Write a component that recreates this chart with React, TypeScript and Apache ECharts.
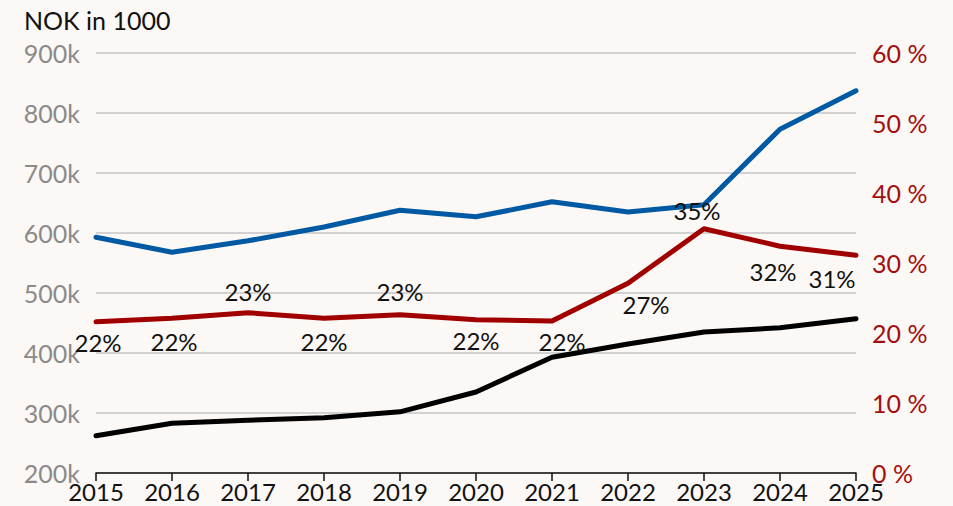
import React, { useEffect, useRef } from "react";
import * as echarts from "echarts";

const years = ["2015", "2016", "2017", "2018", "2019", "2020", "2021", "2022", "2023", "2024", "2025"];
const blueValues = [593, 568, 587, 610, 638, 627, 652, 635, 647, 773, 837];
const blackValues = [262, 283, 288, 292, 302, 335, 393, 415, 435, 442, 457];
const redValues = [21.6, 22.1, 22.9, 22.1, 22.6, 21.9, 21.7, 27.1, 34.9, 32.4, 31.1];
const redLabelPos = ["bottom", "bottom", "top", "bottom", "top", "bottom", "bottom", "bottom", "top", "bottom", "bottom"];
const redLabelOffset = [[2, 0], [2, 2], [0, 0], [0, 2], [0, -2], [0, 0], [10, -1], [18, 0], [-7, 3], [-7, 4], [-24, 2]];

const FONT = "Lato, 'Open Sans', sans-serif";

export default function App() {
  const ref = useRef<HTMLDivElement>(null);
  useEffect(() => {
    if (!ref.current) return;
    const chart = echarts.init(ref.current, null, { renderer: "svg" });
    chart.setOption({
      animation: false,
      backgroundColor: "#fcf8f5",
      textStyle: { fontFamily: FONT },
      title: {
        text: "NOK in 1000",
        left: 19,
        top: 2,
        textStyle: { fontFamily: FONT, fontSize: 25, fontWeight: "normal", color: "#111" },
      },
      grid: { left: 96, right: 97, top: 53, bottom: 33 },
      xAxis: {
        type: "category",
        data: years,
        boundaryGap: false,
        axisLine: { lineStyle: { color: "#111", width: 1.5 } },
        axisTick: { show: true, length: 8, lineStyle: { color: "#111", width: 1.5 } },
        axisLabel: { color: "#111", fontSize: 24, fontFamily: FONT, margin: 6 },
        splitLine: { show: false },
      },
      yAxis: [
        {
          type: "value",
          min: 200,
          max: 900,
          interval: 100,
          axisLine: { show: false },
          axisTick: { show: false },
          axisLabel: {
            color: "#8a8a8a",
            fontSize: 25,
            fontFamily: FONT,
            margin: 16,
            formatter: (v: number) => v + "k",
          },
          splitLine: { lineStyle: { color: "#c6c6c6", width: 1.5 } },
        },
        {
          type: "value",
          min: 0,
          max: 60,
          interval: 10,
          position: "right",
          axisLine: { show: false },
          axisTick: { show: false },
          axisLabel: {
            color: "#a30f0f",
            fontSize: 25,
            fontFamily: FONT,
            margin: 16,
            formatter: (v: number) => v + " %",
          },
          splitLine: { show: false },
        },
      ],
      series: [
        {
          type: "line",
          data: blueValues,
          yAxisIndex: 0,
          symbol: "none",
          lineStyle: { color: "#0059a3", width: 5, cap: "round", join: "round" },
          z: 3,
        },
        {
          type: "line",
          data: blackValues,
          yAxisIndex: 0,
          symbol: "none",
          lineStyle: { color: "#000", width: 5, cap: "round", join: "round" },
          z: 3,
        },
        {
          type: "line",
          yAxisIndex: 1,
          symbol: "circle",
          symbolSize: 2,
          showSymbol: true,
          itemStyle: { color: "#a00000" },
          lineStyle: { color: "#a00000", width: 5, cap: "round", join: "round" },
          z: 4,
          data: redValues.map((v, i) => ({
            value: v,
            label: {
              show: true,
              position: redLabelPos[i],
              distance: 8,
              offset: redLabelOffset[i],
              formatter: (p: any) => Math.round(p.value) + "%",
              color: "#111",
              fontSize: 24,
              fontFamily: FONT,
            },
          })),
        },
      ],
    });
    return () => chart.dispose();
  }, []);
  return (
    <div
      ref={ref}
      style={{ position: "fixed", left: 0, top: 0, width: 953, height: 506 }}
    />
  );
}
